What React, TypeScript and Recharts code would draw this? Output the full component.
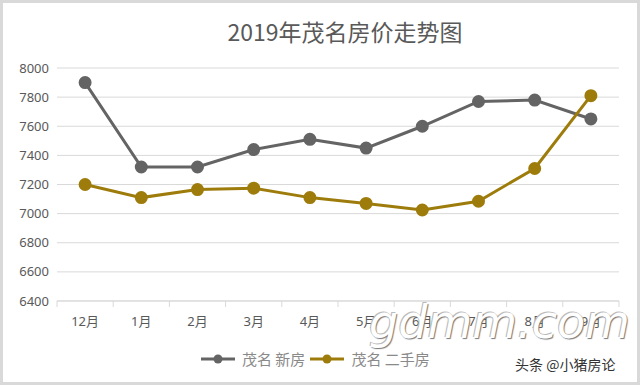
import React from "react";
import { LineChart, Line, XAxis, YAxis, CartesianGrid } from "recharts";

const months = ["12月", "1月", "2月", "3月", "4月", "5月", "6月", "7月", "8月", "9月"];
const newHomes = [7900, 7320, 7320, 7440, 7510, 7450, 7600, 7770, 7780, 7650];
const resaleHomes = [7200, 7110, 7165, 7175, 7110, 7070, 7025, 7085, 7310, 7810];
const yTicks = [6400, 6600, 6800, 7000, 7200, 7400, 7600, 7800, 8000];

const data = months.map((m, i) => ({ month: m, newHome: newHomes[i], resale: resaleHomes[i] }));

const GRAY = "#646464";
const GOLD = "#9e7c0c";
const TEXT = "#595959";
const FONT = "'Noto Sans', 'Noto Sans CJK SC', sans-serif";

function MonthTick(props: any) {
  const { x, y, payload, index, visibleTicksCount } = props;
  const half = payload.offset || 0;
  const top = y - 8;
  return (
    <g>
      <line x1={x - half} x2={x - half} y1={top} y2={top + 6} stroke="#d9d9d9" />
      {index === visibleTicksCount - 1 && (
        <line x1={x + half} x2={x + half} y1={top} y2={top + 6} stroke="#d9d9d9" />
      )}
      <text x={x} y={y + 17} textAnchor="middle" fill={TEXT} fontSize={13} fontFamily={FONT}>
        {payload.value}
      </text>
    </g>
  );
}

function LegendItem({ color, label }: { color: string; label: string }) {
  return (
    <span style={{ display: "inline-flex", alignItems: "center", marginRight: 4 }}>
      <svg width={36} height={12} style={{ marginRight: 6 }}>
        <line x1={1} x2={35} y1={6} y2={6} stroke={color} strokeWidth={3} />
        <circle cx={18} cy={6} r={4.5} fill={color} />
      </svg>
      <span>{label}</span>
    </span>
  );
}

export default function App() {
  return (
    <div
      style={{
        position: "relative",
        width: 640,
        height: 385,
        boxSizing: "border-box",
        border: "3px solid #d9d9d9",
        background: "#fff",
        overflow: "hidden",
      }}
    >
      <style>{`body{margin:0}`}</style>
      <div
        style={{
          position: "absolute",
          left: 0,
          right: 0,
          top: 11,
          textAlign: "center",
          paddingLeft: 50,
          fontFamily: "'Noto Sans CJK SC', sans-serif",
          fontSize: 23,
          color: TEXT,
        }}
      >
        2019年茂名房价走势图
      </div>
      <div style={{ position: "absolute", left: -3, top: -3 }}>
        <LineChart width={640} height={385} data={data} margin={{ top: 68, right: 21, bottom: 54, left: 0 }}>
          <CartesianGrid vertical={false} stroke="#d9d9d9" />
          <XAxis
            dataKey="month"
            scale="band"
            axisLine={{ stroke: "#d9d9d9" }}
            tickLine={false}
            tick={<MonthTick />}
            interval={0}
            height={30}
          />
          <YAxis
            domain={[6400, 8000]}
            ticks={yTicks}
            axisLine={false}
            tickLine={false}
            width={57}
            tick={{ fill: TEXT, fontSize: 13, fontFamily: FONT }}
          />
          <Line
            type="linear"
            dataKey="newHome"
            stroke={GRAY}
            strokeWidth={3}
            dot={{ r: 5, fill: GRAY, stroke: GRAY }}
            isAnimationActive={false}
          />
          <Line
            type="linear"
            dataKey="resale"
            stroke={GOLD}
            strokeWidth={3}
            dot={{ r: 5, fill: GOLD, stroke: GOLD }}
            isAnimationActive={false}
          />
        </LineChart>
      </div>
      <div
        style={{
          position: "absolute",
          left: 197,
          top: 345,
          display: "flex",
          alignItems: "center",
          fontFamily: "'Noto Sans CJK SC', serif",
          fontSize: 15,
          color: "#8a8a8a",
        }}
      >
        <LegendItem color={GRAY} label="茂名 新房" />
        <LegendItem color={GOLD} label="茂名 二手房" />
      </div>
      <div
        style={{
          position: "absolute",
          left: 366,
          top: 292,
          fontFamily: "'DejaVu Sans', sans-serif",
          fontStyle: "italic",
          fontWeight: 200,
          fontSize: 46,
          color: "#fff",
          textShadow: "1px 1px 1px #777, -1px -1px 0 #bbb",
        }}
      >
        gdmm.com
      </div>
      <div
        style={{
          position: "absolute",
          left: 512,
          top: 351,
          fontFamily: "'Noto Sans CJK SC', sans-serif",
          fontSize: 14,
          color: "#333",
        }}
      >
        头条 @小猪房论
      </div>
    </div>
  );
}
